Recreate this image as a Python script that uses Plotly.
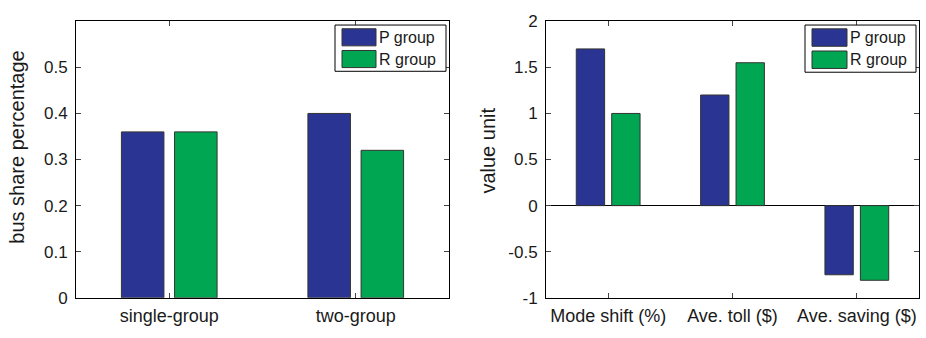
import plotly.graph_objects as go

# ---- data ----
left_categories = ["single-group", "two-group"]
left_p = [0.36, 0.40]
left_r = [0.36, 0.32]

right_categories = ["Mode shift (%)", "Ave. toll ($)", "Ave. saving ($)"]
right_p = [1.70, 1.20, -0.75]
right_r = [1.00, 1.55, -0.81]

series_names = ["P group", "R group"]
left_ticks = [0, 0.1, 0.2, 0.3, 0.4, 0.5]
left_ticklabels = ["0", "0.1", "0.2", "0.3", "0.4", "0.5"]
right_ticks = [-1, -0.5, 0, 0.5, 1, 1.5, 2]
right_ticklabels = ["-1", "-0.5", "0", "0.5", "1", "1.5", "2"]
left_ytitle = "bus share percentage"
right_ytitle = "value unit"

P_COLOR = "#2a3593"
R_COLOR = "#00a651"
EDGE = "#333333"
FONT = "Liberation Sans, Arial, sans-serif"
TXT = "#1a1a1a"

W, H = 926, 338
fig = go.Figure()

fig.add_trace(go.Bar(x=left_categories, y=left_p, name=series_names[0], marker=dict(color=P_COLOR, line=dict(color=EDGE, width=1)), xaxis="x", yaxis="y", showlegend=False))
fig.add_trace(go.Bar(x=left_categories, y=left_r, name=series_names[1], marker=dict(color=R_COLOR, line=dict(color=EDGE, width=1)), xaxis="x", yaxis="y", showlegend=False))
fig.add_trace(go.Bar(x=right_categories, y=right_p, name=series_names[0], marker=dict(color=P_COLOR, line=dict(color=EDGE, width=1)), xaxis="x2", yaxis="y2", showlegend=False))
fig.add_trace(go.Bar(x=right_categories, y=right_r, name=series_names[1], marker=dict(color=R_COLOR, line=dict(color=EDGE, width=1)), xaxis="x2", yaxis="y2", showlegend=False))

ydom = [1 - 306 / H, 1 - 13 / H]
axis_common = dict(showline=True, linecolor="black", linewidth=1, mirror="allticks",
                   ticks="inside", ticklen=5, tickcolor="#444", showgrid=False)
xfont = dict(family=FONT, size=18, color=TXT)
yfont = dict(family=FONT, size=17, color=TXT)
tfont = dict(family=FONT, size=20, color=TXT)

fig.update_layout(
    width=W, height=H,
    margin=dict(l=0, r=0, t=0, b=0),
    paper_bgcolor="white", plot_bgcolor="white",
    barmode="group", bargap=0.43, bargroupgap=0.2,
    font=dict(family=FONT, size=16, color=TXT),
    xaxis=dict(domain=[76 / W, 449 / W], anchor="y", range=[-0.5, 1.5], tickfont=xfont,
               ticklabelstandoff=2, **axis_common),
    yaxis=dict(domain=ydom, anchor="x", range=[0, 0.6], tickvals=left_ticks,
               ticktext=left_ticklabels, tickfont=yfont, ticklabelstandoff=4,
               zeroline=False, **axis_common),
    xaxis2=dict(domain=[546 / W, 919 / W], anchor="y2", range=[-0.5, 2.5], tickfont=xfont,
                ticklabelstandoff=2, **axis_common),
    yaxis2=dict(domain=ydom, anchor="x2", range=[-1, 2], tickvals=right_ticks,
                ticktext=right_ticklabels, tickfont=yfont, ticklabelstandoff=4,
                zeroline=True, zerolinecolor="black", zerolinewidth=1, **axis_common),
)

# y-axis titles
fig.add_annotation(xref="paper", yref="paper", x=17 / W, y=1 - 147 / H, text=left_ytitle,
                   textangle=-90, showarrow=False, xanchor="center", yanchor="middle", font=tfont)
fig.add_annotation(xref="paper", yref="paper", x=488 / W, y=1 - 150 / H, text=right_ytitle,
                   textangle=-90, showarrow=False, xanchor="center", yanchor="middle", font=tfont)

# custom legends (boxes with wide swatches), positioned in axis-domain coords
def add_legend(xref, yref, x0, x1, y0, y1, sw_x0, sw_x1):
    fig.add_shape(type="rect", xref=xref, yref=yref, x0=x0, x1=x1, y0=y0, y1=y1,
                  line=dict(color="black", width=1), fillcolor="white", layer="above")
    h = y1 - y0
    for i, (col, name) in enumerate([(P_COLOR, series_names[0]), (R_COLOR, series_names[1])]):
        top = y1 - h * (0.08 + i * 0.47)
        bot = top - h * 0.37
        fig.add_shape(type="rect", xref=xref, yref=yref, x0=sw_x0, x1=sw_x1, y0=bot, y1=top,
                      line=dict(color=EDGE, width=1), fillcolor=col, layer="above")
        fig.add_annotation(xref=xref, yref=yref, x=sw_x1 + 0.004, y=(top + bot) / 2,
                           text=name, showarrow=False, xanchor="left", yanchor="middle",
                           font=dict(family=FONT, size=16, color=TXT))

pw = 373.0
ph = 293.0
add_legend("x domain", "y domain", (335 - 76) / pw, (446 - 76) / pw, 1 - (66 - 13) / ph, 1 - (17 - 13) / ph,
           (342 - 76) / pw, (376 - 76) / pw)
add_legend("x2 domain", "y2 domain", (805 - 546) / pw, (916 - 546) / pw, 1 - (67 - 13) / ph, 1 - (17 - 13) / ph,
           (812 - 546) / pw, (847 - 546) / pw)

fig.write_html("out.html")
